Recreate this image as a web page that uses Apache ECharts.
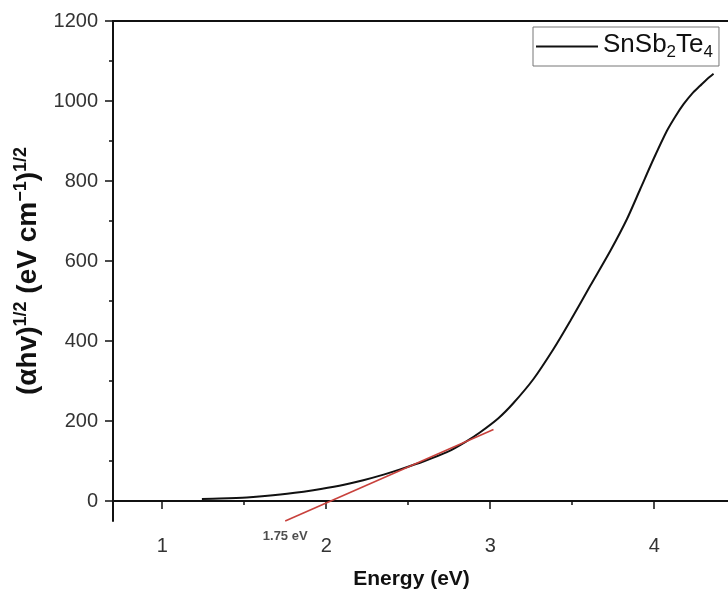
<!DOCTYPE html>
<html>
<head>
<meta charset="utf-8">
<script src="https://cdn.jsdelivr.net/npm/echarts@6/dist/echarts.min.js"></script>
<style>
  html, body { margin: 0; padding: 0; background: #fff; }
  #chart { width: 728px; height: 593px; }
</style>
</head>
<body>
<div id="chart"></div>
<script>
// ---- data ----
const seriesName = 'SnSb2Te4';
const energy = [1.242, 1.35, 1.516, 1.72, 1.921, 2.08, 2.226, 2.35, 2.451, 2.6, 2.736, 2.85, 2.939, 3.05, 3.142, 3.264, 3.386, 3.488, 3.61, 3.732, 3.834, 3.915, 3.996, 4.077, 4.13, 4.179, 4.23, 4.28, 4.32, 4.362];
const ahv    = [5, 6, 9, 16, 27, 38, 52, 66, 79, 100, 122, 148, 172, 207, 245, 305, 380, 450, 538, 625, 705, 780, 855, 925, 962, 992, 1018, 1038, 1054, 1068];
const fitEnergy = [1.75, 3.02];
const fitValue  = [-50, 178.5];
const gapEnergy = 1.75;
const gapLabel  = '1.75 eV';
const xMajorTicks = [1, 2, 3, 4];
const xMinorTicks = [1.5, 2.5, 3.5];
const yMajorTicks = [0, 200, 400, 600, 800, 1000, 1200];
const yMinorTicks = [100, 300, 500, 700, 900, 1100];
const xRange = [0.7, 4.45];
const yRange = [-50, 1200];

const FONT = "'Liberation Sans', Arial, sans-serif";
const chart = echarts.init(document.getElementById('chart'), null, { renderer: 'canvas' });

const curve = energy.map((e, i) => [e, ahv[i]]);
const fit = fitEnergy.map((e, i) => [e, fitValue[i]]);

const axisLineStyle = { color: '#111', width: 2 };

chart.setOption({
  animation: false,
  backgroundColor: '#fff',
  grid: { left: 113, right: 0, top: 21, bottom: 72, containLabel: false, outerBoundsMode: 'none' },
  legend: {
    data: [{ name: seriesName, icon: 'path://M0,0 L62,0 L62,2 L0,2 Z' }],
    left: 533, top: 27,
    padding: [5, 6, 5, 3],
    itemWidth: 62, itemHeight: 2,
    borderColor: '#777', borderWidth: 1,
    backgroundColor: '#fff',
    formatter: () => '{a|SnSb}{s|2}{a|Te}{s|4}',
    textStyle: {
      rich: {
        a: { fontSize: 26, fontFamily: FONT, color: '#111', verticalAlign: 'bottom', lineHeight: 29, padding: [0, 0, 3, 0] },
        s: { fontSize: 17, fontFamily: FONT, color: '#111', verticalAlign: 'bottom', lineHeight: 18 }
      }
    }
  },
  xAxis: [
    {
      type: 'value', min: xRange[0], max: xRange[1], position: 'bottom',
      axisLine: { show: true, lineStyle: axisLineStyle },
      axisTick: { show: true, customValues: xMajorTicks, length: 8, lineStyle: { color: '#111', width: 1.5 } },
      axisLabel: { customValues: xMajorTicks, formatter: v => String(v), fontSize: 20, fontFamily: FONT, color: '#333', margin: 15 },
      splitLine: { show: false },
      name: 'Energy (eV)', nameLocation: 'middle', nameGap: 46,
      nameTextStyle: { fontSize: 21, fontWeight: 'bold', fontFamily: FONT, color: '#111', lineHeight: 25, padding: [0, 18, 0, 0] }
    },
    {
      type: 'value', min: xRange[0], max: xRange[1], position: 'bottom',
      axisLine: { show: false },
      axisTick: { show: true, customValues: xMinorTicks, length: 4, lineStyle: { color: '#111', width: 1.5 } },
      axisLabel: { show: false },
      splitLine: { show: false }
    },
    {
      type: 'value', min: xRange[0], max: xRange[1], position: 'top',
      axisLine: { show: true, lineStyle: axisLineStyle },
      axisTick: { show: false }, axisLabel: { show: false }, splitLine: { show: false }
    }
  ],
  yAxis: [
    {
      type: 'value', min: yRange[0], max: yRange[1], position: 'left',
      axisLine: { show: true, lineStyle: axisLineStyle },
      axisTick: { show: true, customValues: yMajorTicks, length: 8, lineStyle: { color: '#111', width: 1.5 } },
      axisLabel: { customValues: yMajorTicks, formatter: v => String(v), fontSize: 20, fontFamily: FONT, color: '#333', margin: 15 },
      splitLine: { show: false },
      name: '{m|(αhv)}{s|1/2}{m| (eV cm}{s|−1}{m|)}{s|1/2}',
      nameLocation: 'middle', nameRotate: 90, nameGap: 66,
      nameTextStyle: {
        rich: {
          m: { fontSize: 28, fontWeight: 'bold', fontFamily: FONT, color: '#111', lineHeight: 31, padding: [12, 0, 0, 0], verticalAlign: 'bottom' },
          s: { fontSize: 18, fontWeight: 'bold', fontFamily: FONT, color: '#111', lineHeight: 19, verticalAlign: 'top' }
        }
      }
    },
    {
      type: 'value', min: yRange[0], max: yRange[1], position: 'left',
      axisLine: { show: false },
      axisTick: { show: true, customValues: yMinorTicks, length: 4, lineStyle: { color: '#111', width: 1.5 } },
      axisLabel: { show: false },
      splitLine: { show: false }
    }
  ],
  series: [
    {
      name: seriesName, type: 'line', xAxisIndex: 0, yAxisIndex: 0,
      data: curve, symbol: 'none', smooth: 0.25,
      color: '#111', lineStyle: { color: '#111', width: 2 }
    },
    {
      name: 'fit', type: 'line', xAxisIndex: 0, yAxisIndex: 0,
      data: fit, symbol: 'none', clip: false,
      color: '#c8413c', lineStyle: { color: '#c8413c', width: 1.6 }
    },
    {
      name: 'gap', type: 'scatter', xAxisIndex: 0, yAxisIndex: 0,
      data: [[gapEnergy, yRange[0]]], symbolSize: 0, clip: false, silent: true,
      label: { show: true, formatter: gapLabel, position: 'bottom', distance: 9, fontSize: 13, fontWeight: 'bold', fontFamily: FONT, color: '#222' }
    }
  ]
});
</script>
</body>
</html>
